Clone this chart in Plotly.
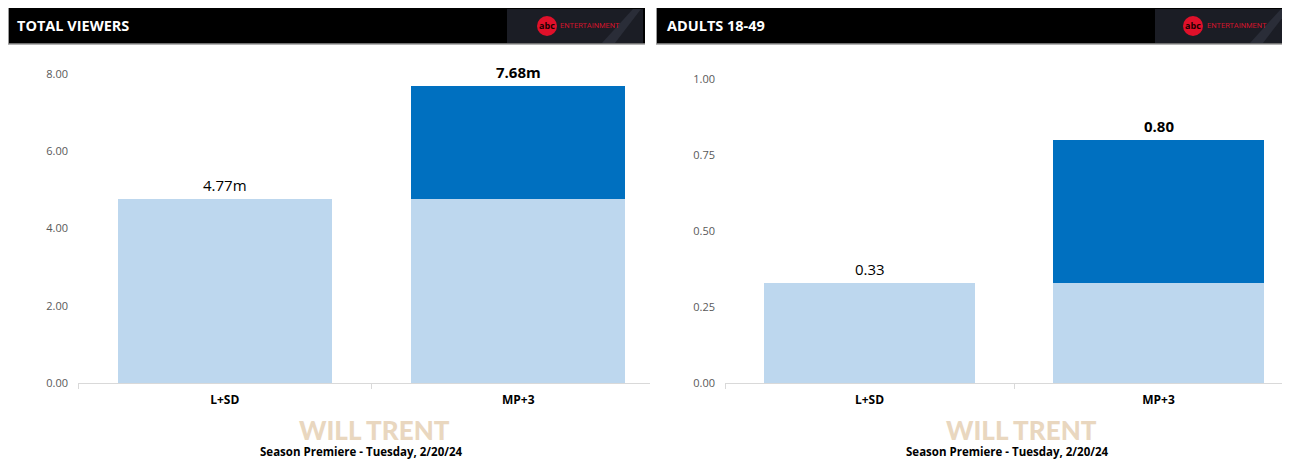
import plotly.graph_objects as go

# ---------------- data ----------------
categories = ["L+SD", "MP+3"]
tv_base = [4.77, 4.77]          # live + same day (light segment)
tv_extra = [0.0, 2.91]          # added by MP+3 (dark segment)
tv_labels = ["4.77m", "7.68m"]
tv_ticks = [0, 2, 4, 6, 8]
tv_ticktext = ["0.00", "2.00", "4.00", "6.00", "8.00"]

demo_base = [0.33, 0.33]
demo_extra = [0.0, 0.47]
demo_labels = ["0.33", "0.80"]
demo_ticks = [0, 0.25, 0.5, 0.75, 1.0]
demo_ticktext = ["0.00", "0.25", "0.50", "0.75", "1.00"]

panel_titles = ["TOTAL VIEWERS", "ADULTS 18-49"]
show_title = "WILL TRENT"
subtitle = "Season Premiere - Tuesday, 2/20/24"

# ---------------- layout helpers ----------------
# page has an 8px body margin; the figure starts at (8, 8) and reaches the window edge
PAGE_W, PAGE_H, M = 1290, 462, 8
W, H = PAGE_W - M, PAGE_H - M

def px(x):
    return (x - M) / W

def py(y):
    return 1 - (y - M) / H

LIGHT = "#BDD7EE"
DARK = "#0070C0"
FONT = "Open Sans"

fig = go.Figure()

panels = [
    dict(base=tv_base, extra=tv_extra, labels=tv_labels, ticks=tv_ticks, ticktext=tv_ticktext,
         yrange=[0, 8], xdom=[78, 650], ytop=74, catw=293.5, xa="x", ya="y"),
    dict(base=demo_base, extra=demo_extra, labels=demo_labels, ticks=demo_ticks, ticktext=demo_ticktext,
         yrange=[0, 1], xdom=[725, 1290], ytop=79, catw=289.0, xa="x2", ya="y2"),
]

for i, p in enumerate(panels):
    fig.add_trace(go.Bar(x=categories, y=p["base"], marker=dict(color=LIGHT, line=dict(width=0)),
                         width=0.73, xaxis=p["xa"], yaxis=p["ya"], showlegend=False, hoverinfo="skip"))
    fig.add_trace(go.Bar(x=categories, y=p["extra"], marker=dict(color=DARK, line=dict(width=0)),
                         width=0.73, xaxis=p["xa"], yaxis=p["ya"], showlegend=False, hoverinfo="skip"))
    totals = [b + e for b, e in zip(p["base"], p["extra"])]
    for j, (c, t, lab) in enumerate(zip(categories, totals, p["labels"])):
        bold = j == len(categories) - 1
        fig.add_annotation(x=c, y=t, xref=p["xa"], yref=p["ya"], text=f"<b>{lab}</b>" if bold else lab,
                           showarrow=False, xanchor="center", yanchor="bottom", yshift=2,
                           font=dict(family=FONT, size=15, color="#000000"))
    axis_w = p["xdom"][1] - p["xdom"][0]
    xaxis = dict(domain=[px(p["xdom"][0]), min(1.0, px(p["xdom"][1]))], type="category",
                 range=[-0.5, -0.5 + axis_w / p["catw"]],
                 showline=True, linecolor="#D9D9D9", linewidth=1, showgrid=False, zeroline=False,
                 ticks="outside", tickson="boundaries", ticklen=5, tickcolor="#D9D9D9",
                 ticklabelstandoff=6,
                 tickfont=dict(family=FONT, size=12, color="#000000"), fixedrange=True,
                 anchor=p["ya"], automargin=False)
    yaxis = dict(domain=[py(383), py(p["ytop"])], range=p["yrange"], tickvals=p["ticks"],
                 ticktext=p["ticktext"], showgrid=False, zeroline=False, showline=False,
                 tickfont=dict(family=FONT, size=11, color="#595959"), ticklabelstandoff=9,
                 anchor=p["xa"], fixedrange=True, automargin=False)
    xk = "xaxis" if i == 0 else "xaxis2"
    yk = "yaxis" if i == 0 else "yaxis2"
    fig.update_layout(**{xk: xaxis, yk: yaxis})

# bold category tick labels
fig.update_xaxes(ticktext=[f"<b>{c}</b>" for c in categories], tickvals=categories)

# ---------------- headers ----------------
shapes = []
annotations = []
headers = [dict(x0=8, x1=645, logo0=507, circ=547, ent=590, title_x=15),
           dict(x0=656, x1=1290, logo0=1155, circ=1193, ent=1237, title_x=665)]
for h, title in zip(headers, panel_titles):
    shapes.append(dict(type="rect", xref="paper", yref="paper", x0=px(h["x0"]), x1=px(h["x1"]),
                       y0=py(44), y1=py(8), fillcolor="#000000", line=dict(width=0), layer="above"))
    shapes.append(dict(type="line", xref="paper", yref="paper", x0=px(h["x0"]), x1=px(h["x1"]),
                       y0=py(44), y1=py(44), line=dict(color="#9A9A9A", width=1.5), layer="above"))
    shapes.append(dict(type="line", xref="paper", yref="paper", x0=px(h["x0"] + 0.5), x1=px(h["x0"] + 0.5),
                       y0=py(44), y1=py(8), line=dict(color="#9A9A9A", width=1), layer="above"))
    # logo panel
    shapes.append(dict(type="rect", xref="paper", yref="paper", x0=px(h["logo0"]), x1=px(h["x1"] - 2),
                       y0=py(43), y1=py(9), fillcolor="#1B1D25", line=dict(width=0), layer="above"))
    l0 = h["logo0"]
    path = (f"M {px(l0 + 95)} {py(43)} L {px(l0 + 126)} {py(9)} L {px(l0 + 134)} {py(9)} "
            f"L {px(l0 + 108)} {py(43)} Z")
    shapes.append(dict(type="path", xref="paper", yref="paper", path=path, fillcolor="#2A2D38",
                       line=dict(width=0), layer="above"))
    shapes.append(dict(type="circle", xref="paper", yref="paper", x0=px(h["circ"] - 10), x1=px(h["circ"] + 10),
                       y0=py(36), y1=py(16), fillcolor="#E0102A", line=dict(width=0), layer="above"))
    annotations.append(dict(x=px(h["circ"]), y=py(26), xref="paper", yref="paper", text="<b>abc</b>",
                            showarrow=False, xanchor="center", yanchor="middle",
                            font=dict(family=FONT, size=9, color="#1A0000")))
    annotations.append(dict(x=px(h["ent"]), y=py(26), xref="paper", yref="paper", text="ENTERTAINMENT",
                            showarrow=False, xanchor="center", yanchor="middle",
                            font=dict(family="Roboto", size=7.5, color="#D0142C")))
    annotations.append(dict(x=px(h["title_x"]), y=py(26), xref="paper", yref="paper", text=f"<b>{title}</b>",
                            showarrow=False, xanchor="left", yanchor="middle",
                            font=dict(family=FONT, size=14.5, color="#FFFFFF")))

# ---------------- footers ----------------
for wt_x, sub_x in [(374, 361), (1021, 1007)]:
    annotations.append(dict(x=px(wt_x), y=py(430), xref="paper", yref="paper", text=show_title,
                            showarrow=False, xanchor="center", yanchor="middle",
                            font=dict(family="Lato", size=26, weight=900, color="#E9D7BF")))
    annotations.append(dict(x=px(sub_x), y=py(451), xref="paper", yref="paper", text=f"<b>{subtitle}</b>",
                            showarrow=False, xanchor="center", yanchor="middle",
                            font=dict(family=FONT, size=11.5, color="#000000")))

fig.update_layout(width=W, height=H, margin=dict(l=0, r=0, t=0, b=0, pad=0, autoexpand=False),
                  barmode="stack",
                  paper_bgcolor="#FFFFFF", plot_bgcolor="#FFFFFF", shapes=shapes,
                  annotations=list(fig.layout.annotations) + annotations, showlegend=False)

fig.write_html("out.html", config={"displayModeBar": False})
